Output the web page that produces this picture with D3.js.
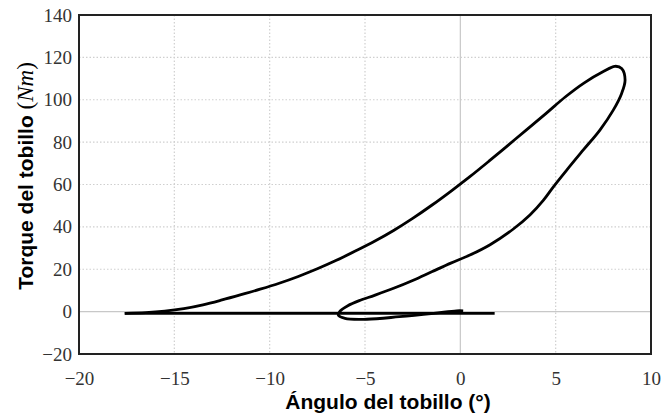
<!DOCTYPE html>
<html>
	<head>
		<meta charset="utf-8">
		<title></title>
		<script src="https://d3js.org/d3.v7.min.js"></script>
		<style>
			body { margin: 0; background: #fff; }
		</style>
	</head>
	<body>
		<div class="main_div"></div>
		<script>

			// Datos
			var xTicks = [-20, -15, -10, -5, 0, 5, 10];
			var yTicks = [-20, 0, 20, 40, 60, 80, 100, 120, 140];

			// tramo recto sobre el eje
			var flatAngle  = [1.8, -17.6];
			var flatTorque = [-0.8, -0.8];

			// lazo de torque-angulo (carga, pico, descarga, rizo final)
			var loopAngle  = [-17.6, -16.5, -15.5, -14.5, -13.5, -12.5, -11.5, -10.5, -9.5, -8.5, -7.5, -6.5, -5.5, -4.5, -3.5, -2.5, -1.5, -0.5, 0.5, 1.5, 2.5, 3.5, 4.5, 5.5, 6.5, 7.5, 8.1, 8.46, 8.64, 8.46, 8.02, 7.32, 6.45, 5.58, 4.88, 4.35, 3.65, 2.78, 1.56, 0.5, -0.5, -1.5, -2.5, -3.5, -4.5, -5.3, -5.9, -6.3, -6.4, -6.05, -4.9, -3.2, -1.4, -0.2, 0.15];
			var loopTorque = [-0.8, -0.5, 0.2, 1.4, 3.2, 5.5, 8.0, 10.6, 13.4, 16.6, 20.2, 24.2, 28.6, 33.2, 38.3, 44.0, 50.2, 56.8, 63.7, 71.0, 78.5, 86.0, 93.6, 101.3, 108.0, 113.3, 115.8, 114.8, 109.3, 103.0, 95.1, 85.7, 76.3, 66.8, 58.9, 52.5, 45.6, 39.0, 31.6, 26.7, 22.9, 18.8, 14.7, 11.0, 7.7, 5.2, 2.8, 0.3, -1.6, -3.2, -3.6, -2.4, -0.8, 0.4, 0.4];

			var W = 661, H = 415;
			var pLeft = 79, pRight = 651, pTop = 15, pBottom = 354;

			var svg = d3.select(".main_div")
						.append("svg")
						.attr("width", W)
						.attr("height", H);

			// Escalas
			var xScale = d3.scaleLinear().domain([-20, 10]).range([pLeft, pRight]);
			var yScale = d3.scaleLinear().domain([-20, 140]).range([pBottom, pTop]);

			// Grilla punteada (los ceros van en linea continua)
			var grid = svg.append("g");
			grid.selectAll("line.gx").data(xTicks).enter().append("line")
				.attr("x1", function(d){return xScale(d);})
				.attr("x2", function(d){return xScale(d);})
				.attr("y1", pTop).attr("y2", pBottom)
				.attr("stroke", function(d){return d === 0 ? "#c8c8c8" : "#cfcfcf";})
				.attr("stroke-width", 1.2)
				.attr("stroke-dasharray", function(d){return d === 0 ? null : "1.5,2";});
			grid.selectAll("line.gy").data(yTicks).enter().append("line")
				.attr("y1", function(d){return yScale(d);})
				.attr("y2", function(d){return yScale(d);})
				.attr("x1", pLeft).attr("x2", pRight)
				.attr("stroke", function(d){return d === 0 ? "#c8c8c8" : "#cfcfcf";})
				.attr("stroke-width", 1.2)
				.attr("stroke-dasharray", function(d){return d === 0 ? null : "1.5,2";});

			// Curvas
			var flatLine = d3.line()
				.x(function(d){return xScale(d[0]);})
				.y(function(d){return yScale(d[1]);});
			var loopLine = d3.line()
				.x(function(d){return xScale(d[0]);})
				.y(function(d){return yScale(d[1]);})
				.curve(d3.curveCatmullRom.alpha(0.5));

			svg.append("path")
				.attr("d", flatLine(d3.zip(flatAngle, flatTorque)))
				.attr("fill", "none").attr("stroke", "#000").attr("stroke-width", 2.8);
			svg.append("path")
				.attr("d", loopLine(d3.zip(loopAngle, loopTorque)))
				.attr("fill", "none").attr("stroke", "#000").attr("stroke-width", 2.8)
				.attr("stroke-linejoin", "round");

			// Marco
			svg.append("rect")
				.attr("x", pLeft).attr("y", pTop)
				.attr("width", pRight - pLeft).attr("height", pBottom - pTop)
				.attr("fill", "none").attr("stroke", "#222").attr("stroke-width", 2);

			// Axis
			var xAxis = d3.axisBottom(xScale).tickValues(xTicks).tickSize(0).tickPadding(18)
				.tickFormat(function(d){return d < 0 ? "\u2212" + Math.abs(d) : d;});
			var yAxis = d3.axisLeft(yScale).tickValues(yTicks).tickSize(0).tickPadding(7)
				.tickFormat(function(d){return d < 0 ? "\u2212" + Math.abs(d) : d;});

			var xAxisGroup = svg.append("g").attr("transform", "translate(0," + pBottom + ")").call(xAxis);
			var yAxisGroup = svg.append("g").attr("transform", "translate(" + pLeft + ",0)").call(yAxis);
			[xAxisGroup, yAxisGroup].forEach(function(g){
				g.select(".domain").remove();
				g.selectAll("text")
					.attr("font-family", "'Liberation Serif', 'Times New Roman', serif")
					.attr("font-size", 19)
					.attr("fill", "#333");
			});

			// Titulos
			svg.append("text")
				.attr("x", 388).attr("y", 409)
				.attr("text-anchor", "middle")
				.attr("font-family", "'Liberation Sans', Arial, sans-serif")
				.attr("font-weight", "bold")
				.attr("font-size", 21)
				.text("Ángulo del tobillo (°)");

			var yTitle = svg.append("text")
				.attr("transform", "translate(33,176) rotate(-90)")
				.attr("text-anchor", "middle")
				.attr("font-family", "'Liberation Sans', Arial, sans-serif")
				.attr("font-weight", "bold")
				.attr("font-size", 21);
			yTitle.append("tspan").text("Torque del tobillo ");
			yTitle.append("tspan").attr("font-family", "'Liberation Serif', serif").attr("font-weight", "normal").attr("font-size", 23).text("(");
			yTitle.append("tspan").attr("font-family", "'Liberation Serif', serif").attr("font-style", "italic").attr("font-weight", "normal").attr("font-size", 23).text("Nm");
			yTitle.append("tspan").attr("font-family", "'Liberation Serif', serif").attr("font-weight", "normal").attr("font-size", 23).text(")");

		</script>
	</body>
</html>
